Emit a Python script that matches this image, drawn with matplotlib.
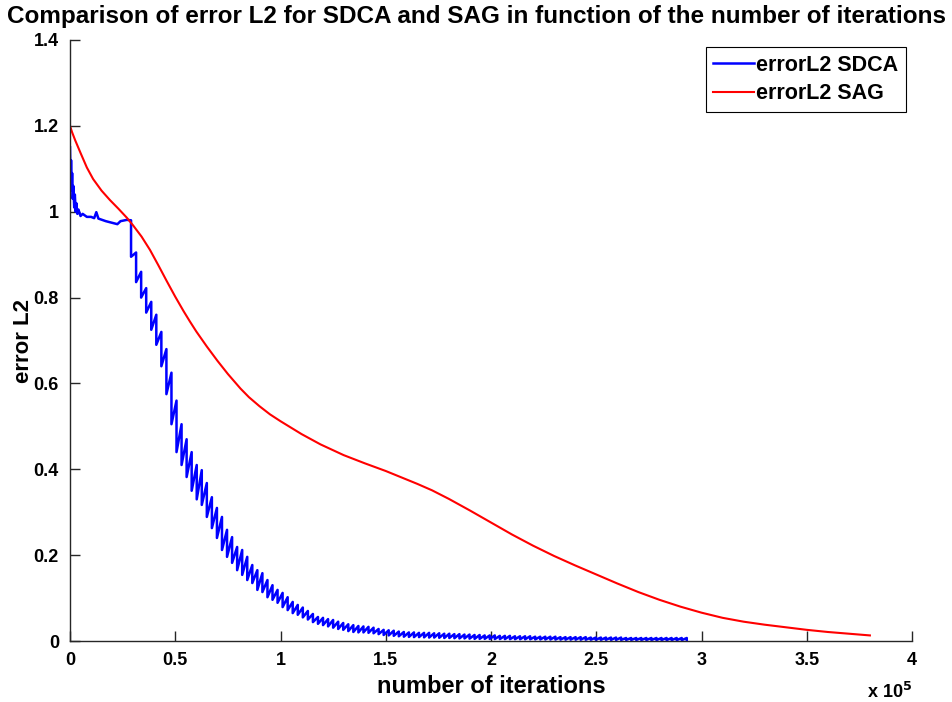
import numpy as np
import matplotlib
matplotlib.use("Agg")
import matplotlib.pyplot as plt
from matplotlib.ticker import FuncFormatter

plt.rcParams['font.family'] = ['Liberation Sans', 'DejaVu Sans']
plt.rcParams['font.weight'] = 'bold'

# SAG error curve (iteration, error L2)
sag_iter = [0, 1000, 2500, 5000, 8000, 11000, 15000, 19000, 23000, 27000,
            30000, 34000, 38000, 42000, 46000, 50000, 54000, 57000, 60000, 65000,
            70000, 75000, 81000, 85000, 90000, 95000, 100000, 110000, 119000, 130000,
            140000, 150000, 157000, 165000, 172000, 180000, 190000, 200000, 210000, 220000,
            230000, 240000, 250000, 260000, 270000, 280000, 290000, 300000, 310000, 320000,
            330000, 340000, 350000, 360000, 370000, 380000]
sag_err = [1.200, 1.185, 1.166, 1.137, 1.103, 1.076, 1.049, 1.027, 1.007, 0.986,
           0.968, 0.942, 0.911, 0.875, 0.838, 0.802, 0.768, 0.744, 0.721, 0.686,
           0.653, 0.622, 0.588, 0.568, 0.547, 0.528, 0.512, 0.482, 0.458, 0.433,
           0.414, 0.396, 0.382, 0.366, 0.351, 0.331, 0.304, 0.276, 0.248, 0.222,
           0.198, 0.176, 0.155, 0.134, 0.114, 0.096, 0.080, 0.066, 0.054, 0.045,
           0.038, 0.032, 0.026, 0.021, 0.017, 0.013]

# SDCA: noisy start before the first epoch boundary
sdca_start_iter = [0, 300, 500, 800, 1000, 1300, 1600, 2000, 2300, 2700,
                   3000, 3500, 4000, 5000, 6000, 8000, 10000, 11500, 12500, 13500,
                   17000, 22500, 24000, 27000]
sdca_start_err = [1.15, 1.06, 1.12, 1.05, 1.09, 1.03, 1.06, 1.01, 1.04, 1.00,
                  1.02, 0.995, 1.005, 0.99, 0.995, 0.988, 0.988, 0.985, 0.999, 0.984,
                  0.978, 0.971, 0.978, 0.981]

# SDCA: per-epoch sawtooth (value before / after the drop at each epoch)
epoch_first = 29000
epoch_len = 2400
sdca_tooth_top = [
    0.980, 0.905, 0.860, 0.822, 0.790, 0.760, 0.720, 0.680, 0.625, 0.560,
    0.505, 0.470, 0.440, 0.410, 0.398, 0.368, 0.335, 0.310, 0.289, 0.259,
    0.242, 0.219, 0.212, 0.196, 0.177, 0.165, 0.158, 0.142, 0.130, 0.119,
    0.112, 0.102, 0.091, 0.084, 0.078, 0.070, 0.063, 0.056, 0.054, 0.051,
    0.049, 0.045, 0.042, 0.039, 0.037, 0.035, 0.034, 0.033, 0.031, 0.028,
    0.026, 0.025, 0.024, 0.022, 0.021, 0.020, 0.020, 0.019, 0.019, 0.019,
    0.018, 0.018, 0.017, 0.017, 0.016, 0.016, 0.015, 0.015, 0.014, 0.014,
    0.013, 0.013, 0.013, 0.012, 0.012, 0.012, 0.011, 0.011, 0.011, 0.011,
    0.010, 0.010, 0.010, 0.010, 0.010, 0.009, 0.009, 0.009, 0.009, 0.009,
    0.009, 0.008, 0.008, 0.008, 0.008, 0.008, 0.008, 0.008, 0.007, 0.007,
    0.007, 0.007, 0.007, 0.007, 0.007, 0.007, 0.007, 0.007, 0.007, 0.007,
    0.007]
sdca_tooth_bottom = [
    0.895, 0.836, 0.800, 0.765, 0.725, 0.690, 0.640, 0.575, 0.505, 0.440,
    0.410, 0.382, 0.350, 0.330, 0.317, 0.289, 0.263, 0.240, 0.212, 0.196,
    0.182, 0.165, 0.154, 0.142, 0.135, 0.119, 0.114, 0.102, 0.096, 0.089,
    0.079, 0.072, 0.065, 0.061, 0.055, 0.050, 0.044, 0.040, 0.037, 0.034,
    0.031, 0.028, 0.026, 0.023, 0.021, 0.020, 0.020, 0.019, 0.018, 0.016,
    0.014, 0.013, 0.012, 0.011, 0.010, 0.0095, 0.009, 0.009, 0.0085, 0.008,
    0.008, 0.0075, 0.007, 0.007, 0.0065, 0.006, 0.006, 0.0055, 0.005, 0.005,
    0.005, 0.0048, 0.0046, 0.0045, 0.0044, 0.0043, 0.0042, 0.0041, 0.004, 0.004,
    0.0038, 0.0037, 0.0036, 0.0035, 0.0034, 0.0033, 0.0032, 0.0032, 0.0031, 0.003,
    0.003, 0.003, 0.0029, 0.0028, 0.0028, 0.0027, 0.0026, 0.0026, 0.0025, 0.0025,
    0.0024, 0.0024, 0.0023, 0.0023, 0.0022, 0.0022, 0.0021, 0.0021, 0.002, 0.002,
    0.002]

x_ticks = [0, 0.5e5, 1e5, 1.5e5, 2e5, 2.5e5, 3e5, 3.5e5, 4e5]
y_ticks = [0, 0.2, 0.4, 0.6, 0.8, 1.0, 1.2, 1.4]

# build the SDCA polyline: vertical drop at each epoch, then a rise to the next one
sdca_x = list(sdca_start_iter)
sdca_y = list(sdca_start_err)
for i in range(len(sdca_tooth_top)):
    xe = epoch_first + i * epoch_len
    sdca_x += [xe, xe]
    sdca_y += [sdca_tooth_top[i], sdca_tooth_bottom[i]]

fig = plt.figure(figsize=(9.53, 7.02), dpi=100)
ax = fig.add_axes([70 / 953, 1 - 641 / 702, 842 / 953, 601 / 702])

ax.plot(sdca_x, sdca_y, color=(0, 0, 1), lw=1.8, label='errorL2 SDCA')
ax.plot(sag_iter, sag_err, color=(1, 0, 0), lw=1.5, label='errorL2 SAG')

ax.set_xlim(0, 4e5)
ax.set_ylim(0, 1.4)
ax.set_xticks(x_ticks)
ax.set_yticks(y_ticks)
ax.xaxis.set_major_formatter(FuncFormatter(lambda v, p: '%g' % (v / 1e5)))
ax.yaxis.set_major_formatter(FuncFormatter(lambda v, p: '%g' % v))
ax.tick_params(direction='in', length=7, width=1, labelsize=13, pad=8, colors='#262626')
for lab in ax.get_xticklabels() + ax.get_yticklabels():
    lab.set_color('black')
    lab.set_fontweight('bold')

ax.spines['top'].set_visible(False)
ax.spines['right'].set_visible(False)
for s in ['left', 'bottom']:
    ax.spines[s].set_color('#262626')
    ax.spines[s].set_linewidth(1)

ax.set_xlabel('number of iterations', fontsize=17, fontweight='bold', labelpad=4)
ax.set_ylabel('error L2', fontsize=16, fontweight='bold', labelpad=0)
ax.set_title('Comparison of error L2 for SDCA and SAG in function of the number of iterations',
             fontsize=17.5, fontweight='bold', pad=12, x=0.483)
ax.text(1.0, -0.085, r'x 10$^{\mathbf{5}}$', transform=ax.transAxes, ha='right', va='center',
        fontsize=13, fontweight='bold')

leg = ax.legend(loc='upper right', bbox_to_anchor=(0.993, 0.988), fontsize=15.5,
                fancybox=False, framealpha=1, edgecolor='black', handlelength=1.9,
                handletextpad=0.1, borderaxespad=0, borderpad=0.35, labelspacing=0.35)
leg.get_frame().set_linewidth(0.8)

fig.savefig('out.png', dpi=100)
